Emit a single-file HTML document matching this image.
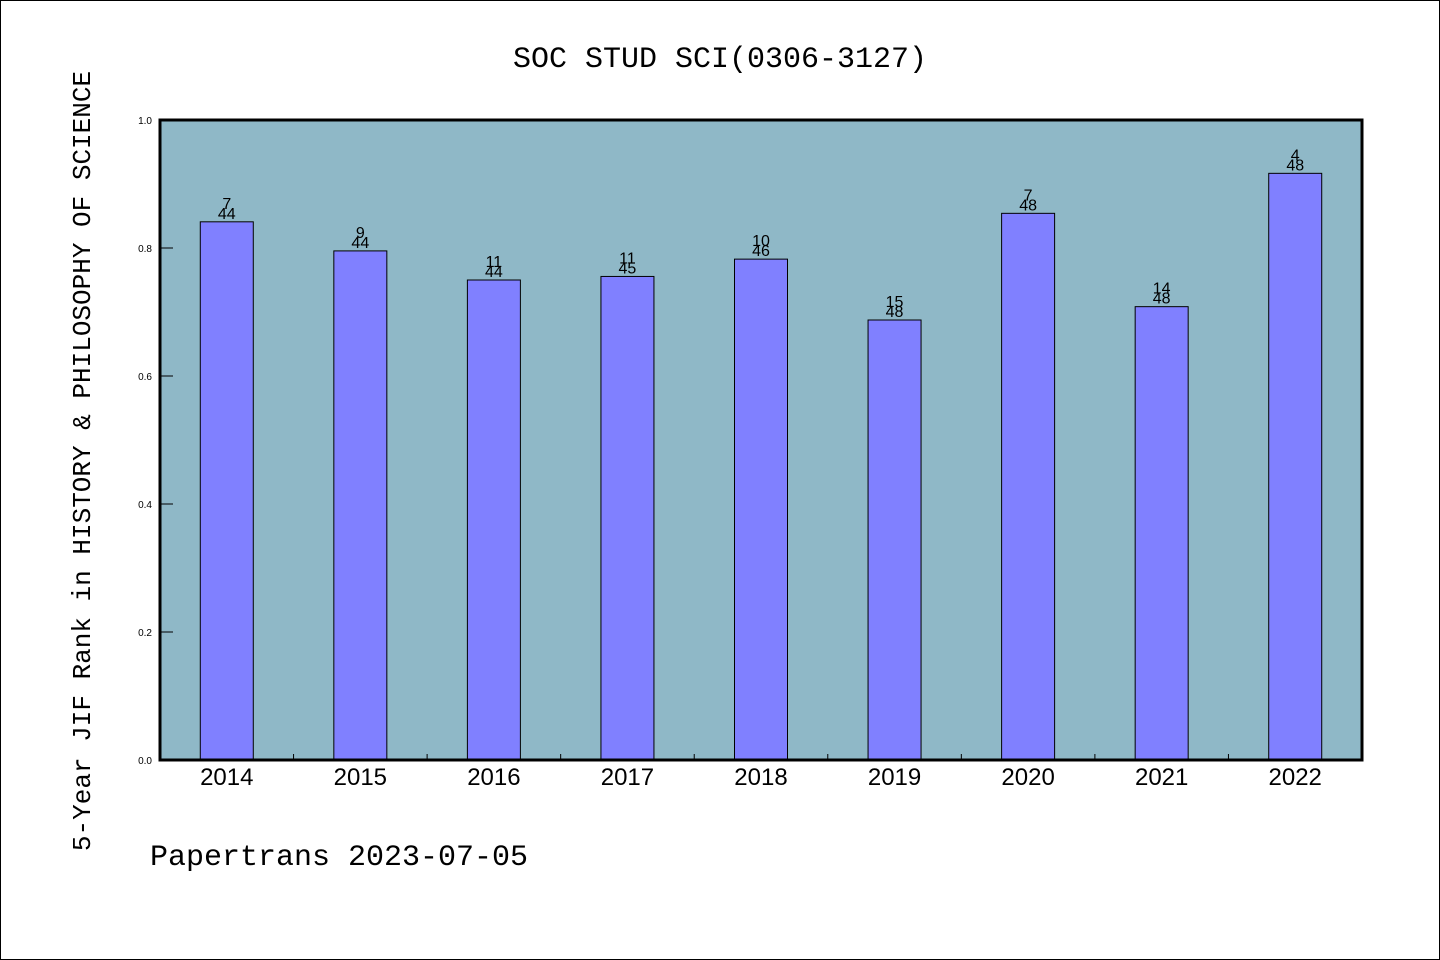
<!DOCTYPE html>
<html><head><meta charset="utf-8"><style>
html,body{margin:0;padding:0;background:#fff;}
#wrap{position:relative;width:1438px;height:958px;border:1px solid #000;overflow:hidden;}
</style></head><body>
<div id="wrap">
<svg id="chart" width="1438" height="958" xmlns="http://www.w3.org/2000/svg"></svg>
</div>
<script>
const categories=["2014","2015","2016","2017","2018","2019","2020","2021","2022"];
const ranks=[7,9,11,11,10,15,7,14,4];
const totals=[44,44,44,45,46,48,48,48,48];
const yTicks=[0,0.2,0.4,0.6,0.8,1.0];
const yTickLabels=["0.0","0.2","0.4","0.6","0.8","1.0"];

const svg=document.getElementById('chart');
const NS='http://www.w3.org/2000/svg';
const L=159,R=1361,T=119,B=759;
function yS(v){return B-(B-T)*v;}
const bw=(R-L)/categories.length;
function xC(i){return L+bw*(i+0.5);}
function mk(tag,attrs,name,text){const e=document.createElementNS(NS,tag);for(const k in attrs)e.setAttribute(k,attrs[k]);


if(text!==undefined)e.textContent=text;svg.appendChild(e);return e;}
mk('rect',{x:L,y:T,width:R-L,height:B-T,fill:'#8fb8c7'},'plot-background');
mk('text',{x:719,y:66,'font-size':30,'text-anchor':'middle','font-family':'Liberation Mono, Noto Sans CJK SC, monospace'},'chart-title','SOC STUD SCI(0306-3127)');
categories.forEach((c,i)=>{
 const v=1-ranks[i]/totals[i];
 const x=xC(i),y=yS(v);
 mk('rect',{x:x-26.5,y:y,width:53,height:B-y,fill:'#8080ff',stroke:'#000','stroke-width':1},'bar-'+c);
 mk('text',{x:x,y:y-13,'font-size':16,'text-anchor':'middle','font-family':'Liberation Sans, sans-serif'},'rank-label-'+c,String(ranks[i]));
 mk('text',{x:x,y:y-3,'font-size':16,'text-anchor':'middle','font-family':'Liberation Sans, sans-serif'},'total-label-'+c,String(totals[i]));
 mk('text',{x:x,y:B+25,'font-size':24,'text-anchor':'middle','font-family':'Liberation Sans, sans-serif'},'x-tick-label-'+c,c);
 if(i>0){const bx=L+bw*i;mk('line',{x1:bx,x2:bx,y1:B,y2:B-6,stroke:'#000','stroke-width':1},'x-tick');}
});
yTicks.forEach((t,i)=>{
 const y=yS(t);
 mk('line',{x1:L,x2:L+13,y1:y,y2:y,stroke:'#000','stroke-width':1},'y-tick');
 mk('text',{x:L-8,y:y+4,'font-size':10,'text-anchor':'end','font-family':'Liberation Sans, sans-serif'},'y-tick-label',yTickLabels[i]);
});
mk('rect',{x:L,y:T,width:R-L,height:B-T,fill:'none',stroke:'#000','stroke-width':3},'plot-frame');
mk('text',{x:0,y:0,'font-size':26,'text-anchor':'middle','font-family':'Liberation Mono, monospace',transform:'translate(89,460) rotate(-90)'},'y-axis-title','5-Year JIF Rank in HISTORY & PHILOSOPHY OF SCIENCE');
mk('text',{x:149,y:864,'font-size':30,'font-family':'Liberation Mono, monospace'},'footer-credit','Papertrans 2023-07-05');
</script>
</body></html>
